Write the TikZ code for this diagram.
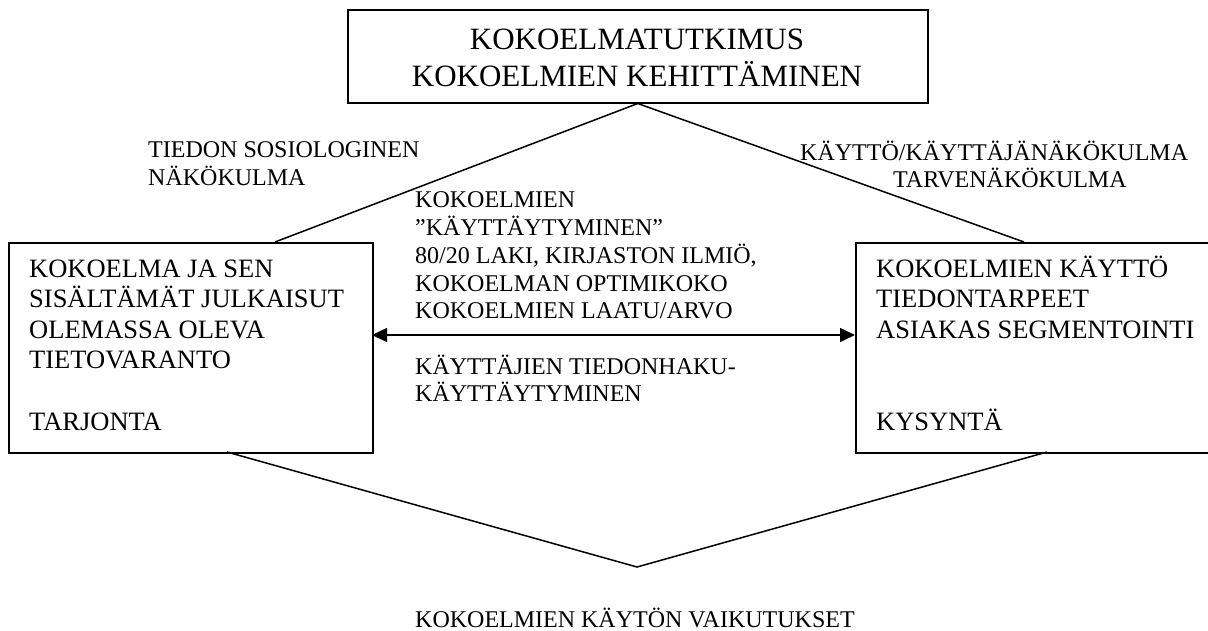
\documentclass[tikz,border=0pt]{standalone}
\usepackage{fontspec}
\setmainfont{Liberation Serif}
\usetikzlibrary{arrows.meta}
\begin{document}
\begin{tikzpicture}[x=1pt,y=-1pt,
  box/.style={draw,line width=1.5pt,inner sep=0pt,anchor=north west},
  conn/.style={line width=1.5pt},
  txt/.style={inner sep=0pt,anchor=base west,font=\fontsize{24}{28}\selectfont},
  btxt/.style={inner sep=0pt,anchor=base west,font=\fontsize{26.5}{30}\selectfont},
  ttxt/.style={inner sep=0pt,anchor=base,font=\fontsize{31}{36}\selectfont},
  tip/.style={Triangle[length=15pt,width=14pt]}]
\useasboundingbox (0,0) rectangle (1208,630);

% boxes
\node[box,minimum width=580pt,minimum height=93pt] (T) at (347,9) {};
\node[box,minimum width=364pt,minimum height=210pt] (L) at (8,242) {};
\node[box,minimum width=357pt,minimum height=210pt] (R) at (855,242) {};

% top box text
\node[ttxt] (t1) at (637,49) {KOKOELMATUTKIMUS};
\node[ttxt] (t2) at (637,86) {KOKOELMIEN KEHITTÄMINEN};

% left box text
\node[btxt] (l1) at (29,277) {KOKOELMA JA SEN};
\node[btxt] (l2) at (29,307.5) {SISÄLTÄMÄT JULKAISUT};
\node[btxt] (l3) at (29,338) {OLEMASSA OLEVA};
\node[btxt] (l4) at (29,368.5) {TIETOVARANTO};
\node[btxt] (l5) at (29,430) {TARJONTA};

% right box text
\node[btxt] (r1) at (876,277) {KOKOELMIEN KÄYTTÖ};
\node[btxt] (r2) at (876,307.5) {TIEDONTARPEET};
\node[btxt] (r3) at (876,338) {ASIAKAS SEGMENTOINTI};
\node[btxt] (r5) at (876,430) {KYSYNTÄ};

% side labels
\node[txt] (s1) at (148,157) {TIEDON SOSIOLOGINEN};
\node[txt] (s2) at (148,185) {NÄKÖKULMA};
\node[txt] (u1) at (800,160) {KÄYTTÖ/KÄYTTÄJÄNÄKÖKULMA};
\node[txt] (u2) at (893,187) {TARVENÄKÖKULMA};

% middle labels
\node[txt] (m1) at (415,207) {KOKOELMIEN};
\node[txt] (m2) at (415,235) {”KÄYTTÄYTYMINEN”};
\node[txt] (m3) at (415,263) {80/20 LAKI, KIRJASTON ILMIÖ,};
\node[txt] (m4) at (415,291) {KOKOELMAN OPTIMIKOKO};
\node[txt] (m5) at (415,318) {KOKOELMIEN LAATU/ARVO};
\node[txt] (k1) at (415,374) {KÄYTTÄJIEN TIEDONHAKU-};
\node[txt] (k2) at (415,401) {KÄYTTÄYTYMINEN};

% bottom label
\node[txt,text depth=0pt] (b1) at (415,627) {KOKOELMIEN KÄYTÖN VAIKUTUKSET};

% connectors
\coordinate (Lt) at (275,242);
\coordinate (Rt) at (1024,242);
\draw[conn] (Lt) -- (T.south) -- (Rt);

\coordinate (Lb) at (227,452);
\coordinate (Rb) at (1047,452);
\coordinate (apex) at (637,567);
\draw[conn] (Lb) -- (apex) -- (Rb);

\coordinate (aL) at (372,335);
\coordinate (aR) at (855,335);
\draw[conn,{Triangle[length=15pt,width=14pt]}-{Triangle[length=15pt,width=14pt]}] (aL) -- (aR);
\end{tikzpicture}
\end{document}
